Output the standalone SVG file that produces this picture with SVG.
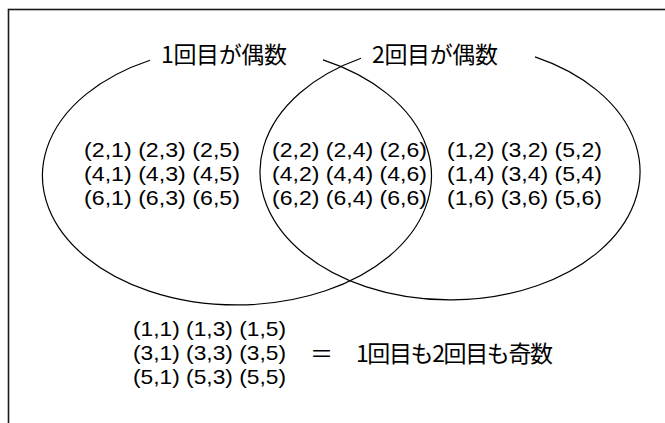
<svg xmlns="http://www.w3.org/2000/svg" width="665" height="423" viewBox="0 0 665 423">
<style>
.frame{fill:none;stroke:#1a1a1a;stroke-width:1.6}
.arc{fill:none;stroke:#000;stroke-width:1.2}
.pair{font-family:"Liberation Sans",Arial,sans-serif;font-size:21px;fill:#000}
.jp{font-family:"Noto Sans CJK JP","Liberation Sans",sans-serif;font-size:23px;fill:#000}
</style>
<rect class="frame" x="8.5" y="9.5" width="700" height="450"/>
<g id="connectors">
<path id="setA" class="arc" d="M323,59.9 A194.5,129.2 0 1 1 150,60.2"/>
<path id="setB" class="arc" d="M535,56.9 A190,128.3 0 1 1 361,58.3"/>
</g>
<g id="labelA"><text class="jp" x="161" y="63" textLength="126" lengthAdjust="spacing">1回目が偶数</text></g>
<g id="labelB"><text class="jp" x="372" y="63" textLength="126" lengthAdjust="spacing">2回目が偶数</text></g>
<g id="onlyA" class="pair">
<text x="84" y="157" textLength="156" lengthAdjust="spacingAndGlyphs">(2,1) (2,3) (2,5)</text>
<text x="84" y="181" textLength="156" lengthAdjust="spacingAndGlyphs">(4,1) (4,3) (4,5)</text>
<text x="84" y="205" textLength="156" lengthAdjust="spacingAndGlyphs">(6,1) (6,3) (6,5)</text>
</g>
<g id="both" class="pair">
<text x="272" y="157" textLength="155" lengthAdjust="spacingAndGlyphs">(2,2) (2,4) (2,6)</text>
<text x="272" y="181" textLength="155" lengthAdjust="spacingAndGlyphs">(4,2) (4,4) (4,6)</text>
<text x="272" y="205" textLength="155" lengthAdjust="spacingAndGlyphs">(6,2) (6,4) (6,6)</text>
</g>
<g id="onlyB" class="pair">
<text x="447" y="157" textLength="155" lengthAdjust="spacingAndGlyphs">(1,2) (3,2) (5,2)</text>
<text x="447" y="181" textLength="155" lengthAdjust="spacingAndGlyphs">(1,4) (3,4) (5,4)</text>
<text x="447" y="205" textLength="155" lengthAdjust="spacingAndGlyphs">(1,6) (3,6) (5,6)</text>
</g>
<g id="neither">
<g class="pair">
<text x="133" y="336" textLength="153" lengthAdjust="spacingAndGlyphs">(1,1) (1,3) (1,5)</text>
<text x="133" y="360" textLength="153" lengthAdjust="spacingAndGlyphs">(3,1) (3,3) (3,5)</text>
<text x="133" y="384" textLength="153" lengthAdjust="spacingAndGlyphs">(5,1) (5,3) (5,5)</text>
</g>
<text class="jp" x="310" y="362">＝</text>
<text class="jp" x="356" y="362" textLength="197" lengthAdjust="spacing">1回目も2回目も奇数</text>
</g>
</svg>
